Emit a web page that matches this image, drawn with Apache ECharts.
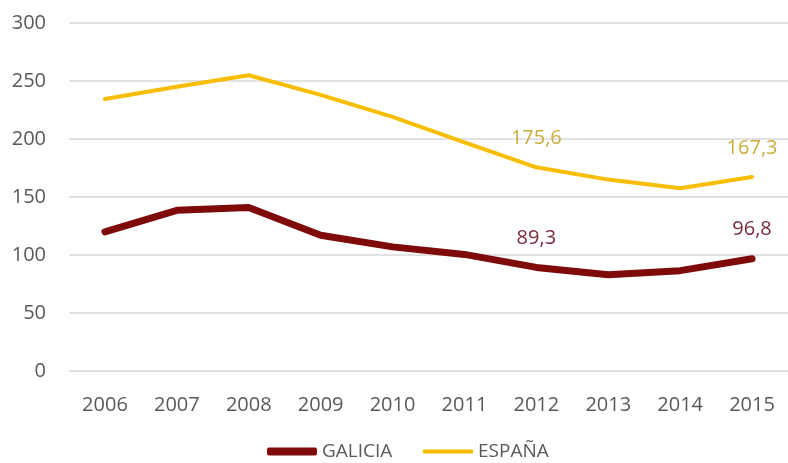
<!DOCTYPE html>
<html><head><meta charset="utf-8">
<script src="https://cdn.jsdelivr.net/npm/echarts@6/dist/echarts.min.js"></script>
<style>html,body{margin:0;padding:0;background:#fff}#c{width:788px;height:463px}</style>
</head><body><div id="c"></div>
<script>
const years = ['2006','2007','2008','2009','2010','2011','2012','2013','2014','2015'];
const galicia = [120, 138.5, 141, 117, 107, 100.5, 89.3, 83, 86.5, 96.8];
const espana = [234.5, 245, 255, 238, 219, 197, 175.6, 165, 157.5, 167.3];
const labelYears = ['2012','2015'];
const yTicks = [0, 50, 100, 150, 200, 250, 300];

const FONT = 'Open Sans';
const fmt = v => String(v).replace('.', ',');
function mkData(arr, color) {
  return arr.map((v, i) => labelYears.includes(years[i]) ? {
    value: v,
    label: {show: true, position: 'top', distance: 19, color: color, fontSize: 20,
            fontFamily: FONT, formatter: p => fmt(p.value)}
  } : v);
}

const legendCommon = {
  bottom: -3, itemWidth: 50, itemGap: 4, icon: 'roundRect',
  textStyle: {color: '#595959', fontSize: 19, fontFamily: FONT}
};

const chart = echarts.init(document.getElementById('c'));
chart.setOption({
  animation: false,
  grid: {left: 69, top: 23, width: 724, height: 348},
  legend: [
    Object.assign({}, legendCommon, {left: 262, itemHeight: 8, data: ['GALICIA']}),
    Object.assign({}, legendCommon, {left: 418, itemHeight: 4, data: ['ESPAÑA']})
  ],
  xAxis: {
    type: 'category', data: years, boundaryGap: true,
    axisLine: {show: false}, axisTick: {show: false},
    axisLabel: {color: '#595959', fontSize: 20, fontFamily: FONT, margin: 24}
  },
  yAxis: {
    type: 'value', min: yTicks[0], max: yTicks[yTicks.length - 1], interval: 50,
    axisLine: {show: false}, axisTick: {show: false},
    axisLabel: {color: '#595959', fontSize: 20, fontFamily: FONT, margin: 23},
    splitLine: {lineStyle: {color: '#d9d9d9', width: 1.5}}
  },
  series: [
    {name: 'GALICIA', type: 'line', data: mkData(galicia, '#7a2a3a'),
     symbol: 'circle', symbolSize: 0, showSymbol: true,
     lineStyle: {color: '#7f0a0a', width: 7, cap: 'round'},
     itemStyle: {color: '#7f0a0a'}},
    {name: 'ESPAÑA', type: 'line', data: mkData(espana, '#c8ae3c'),
     symbol: 'circle', symbolSize: 0, showSymbol: true,
     lineStyle: {color: '#f7bd00', width: 4, cap: 'round'},
     itemStyle: {color: '#f7bd00'}}
  ]
});
</script></body></html>
